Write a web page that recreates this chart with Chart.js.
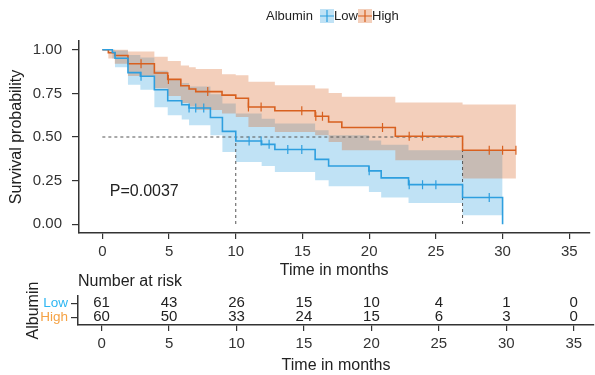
<!DOCTYPE html>
<html>
<head>
<meta charset="utf-8">
<script src="https://cdn.jsdelivr.net/npm/chart.js@4/dist/chart.umd.min.js"></script>
<style>
html, body { margin: 0; padding: 0; background: #fff; }
#wrap { position: relative; width: 595px; height: 375px; overflow: hidden; }
#km { position: absolute; left: 0; top: 0; }
#risk { position: absolute; left: 0; top: 272px; }
</style>
</head>
<body>
<div id="wrap">
  <canvas id="km" width="595" height="280" style="width:595px;height:280px"></canvas>
  <canvas id="risk" width="595" height="103" style="width:595px;height:103px"></canvas>
</div>
<script>
// Albumin Low
let lowTime  = [0, 0.75, 0.95, 1.92, 2.85, 3.9, 4.9, 5.95, 6.5, 8.1, 9.0, 10.0, 11.94, 12.93, 15.95, 16.96, 19.98, 20.9, 22.95, 27.0, 30.0];
let lowSurv  = [1, 0.984, 0.951, 0.869, 0.848, 0.771, 0.708, 0.685, 0.666, 0.612, 0.532, 0.477, 0.458, 0.428, 0.372, 0.334, 0.306, 0.266, 0.227, 0.153, 0];
let lowUpper = [1, 1, 0.995, 0.97, 0.955, 0.88, 0.83, 0.81, 0.79, 0.745, 0.692, 0.634, 0.605, 0.578, 0.539, 0.51, 0.48, 0.455, 0.424, 0.42, 0.42];
let lowLower = [1, 0.95, 0.9, 0.8, 0.77, 0.67, 0.625, 0.6, 0.567, 0.51, 0.414, 0.357, 0.334, 0.3, 0.252, 0.218, 0.185, 0.153, 0.122, 0.052, 0.052];
let lowCensor = [2.9, 6.5, 7.0, 7.6, 11.0, 11.9, 12.5, 13.9, 14.95, 20.0, 23.0, 24.0, 25.0, 29.0];

// Albumin High
let highTime  = [0, 0.45, 0.93, 1.92, 3.9, 4.9, 5.88, 6.5, 7.0, 8.97, 10.0, 10.95, 12.93, 15.95, 16.96, 17.95, 21.96, 27.0, 31.0];
let highSurv  = [1, 0.983, 0.967, 0.92, 0.867, 0.83, 0.794, 0.775, 0.76, 0.74, 0.722, 0.672, 0.65, 0.619, 0.586, 0.554, 0.504, 0.424, 0.424];
let highUpper = [1, 1, 1, 0.99, 0.96, 0.935, 0.91, 0.9, 0.89, 0.86, 0.854, 0.816, 0.797, 0.778, 0.752, 0.73, 0.697, 0.686, 0.686];
let highLower = [1, 0.95, 0.92, 0.85, 0.78, 0.735, 0.695, 0.675, 0.655, 0.634, 0.615, 0.558, 0.529, 0.51, 0.472, 0.424, 0.367, 0.262, 0.262];
let highCensor = [2.9, 4.95, 7.9, 10.95, 11.9, 14.95, 16.0, 16.5, 21.0, 23.0, 24.0, 29.0, 30.0, 31.0];

let medianTimes = [10, 27];
let pValue = "P=0.0037";

let xTicks = [0, 5, 10, 15, 20, 25, 30, 35];
let yTicks = [0, 0.25, 0.5, 0.75, 1];

let riskGroups = ["Low", "High"];
let riskTimes = [0, 5, 10, 15, 20, 25, 30, 35];
let lowRisk  = [61, 43, 26, 15, 10, 4, 1, 0];
let highRisk = [60, 50, 33, 24, 15, 6, 3, 0];

const FONT = "'Liberation Sans', Arial, Helvetica, sans-serif";
const azul = "#2E9FDF";
const laranja = "#D8601F";
const azulFill = "rgba(46,159,223,0.3)";
const laranjaFill = "rgba(216,96,31,0.3)";
const riskColors = ["#2DB6F2", "#F5A244"];
const ink = "#222";
const axisCol = "#333";

function pontos(tempos, valores) {
    return tempos.map((t, i) => ({ x: t, y: valores[i] }));
}

function survEm(tempos, valores, t) {
    let v = valores[0];
    for (let i = 0; i < tempos.length; i++) {
        if (tempos[i] <= t) v = valores[i];
    }
    return v;
}

function banda(dados, cor, alvo) {
    return {
        data: dados, stepped: "before", fill: alvo === undefined ? false : alvo,
        backgroundColor: cor, borderColor: "rgba(0,0,0,0)", borderWidth: 0,
        pointRadius: 0, order: 0
    };
}

let tracejado = { borderColor: "#555", borderWidth: 1, borderDash: [3, 3], pointRadius: 0, fill: false, order: 3 };

let datasets = [];
// 0,1 blue band, 2,3 orange band
datasets.push(Object.assign(banda(pontos(lowTime, lowUpper), azulFill, 1), { order: 5 }));
datasets.push(Object.assign(banda(pontos(lowTime, lowLower), azulFill), { order: 5 }));
datasets.push(Object.assign(banda(pontos(highTime, highUpper), laranjaFill, 3), { order: 4 }));
datasets.push(Object.assign(banda(pontos(highTime, highLower), laranjaFill), { order: 4 }));

let maxMed = Math.max(...medianTimes);
datasets.push(Object.assign({ data: [{ x: 0, y: 0.5 }, { x: maxMed, y: 0.5 }] }, tracejado));
medianTimes.forEach(m => {
    datasets.push(Object.assign({ data: [{ x: m, y: 0.5 }, { x: m, y: 0 }] }, tracejado));
});

datasets.push({ data: pontos(lowTime, lowSurv), stepped: "before", borderColor: azul, borderWidth: 1.6, pointRadius: 0, fill: false, order: 2 });
datasets.push({ data: pontos(highTime, highSurv), stepped: "before", borderColor: laranja, borderWidth: 1.6, pointRadius: 0, fill: false, order: 2 });

datasets.push({
    data: lowCensor.map(t => ({ x: t, y: survEm(lowTime, lowSurv, t) })),
    showLine: false, pointStyle: "line", pointRotation: 90, pointRadius: 4.5,
    pointBorderColor: azul, pointBorderWidth: 1.2, order: 1
});
datasets.push({
    data: highCensor.map(t => ({ x: t, y: survEm(highTime, highSurv, t) })),
    showLine: false, pointStyle: "line", pointRotation: 90, pointRadius: 4.5,
    pointBorderColor: laranja, pointBorderWidth: 1.2, order: 1
});

const extrasKM = {
    id: "extrasKM",
    afterDraw(chart) {
        const ctx = chart.ctx;
        const x = chart.scales.x, y = chart.scales.y;
        ctx.save();
        // p-value
        ctx.fillStyle = ink;
        ctx.font = "16px " + FONT;
        ctx.textAlign = "left";
        ctx.textBaseline = "middle";
        ctx.fillText(pValue, x.getPixelForValue(0.56), y.getPixelForValue(0.19));

        // legend
        ctx.font = "13px " + FONT;
        ctx.fillText("Albumin", 266, 16);
        let chaves = [[azulFill, azul, "Low", 320], [laranjaFill, laranja, "High", 358]];
        chaves.forEach(c => {
            ctx.fillStyle = c[0];
            ctx.fillRect(c[3], 9, 14, 14);
            ctx.strokeStyle = c[1];
            ctx.lineWidth = 1.2;
            ctx.beginPath();
            ctx.moveTo(c[3], 16); ctx.lineTo(c[3] + 14, 16);
            ctx.moveTo(c[3] + 7, 10); ctx.lineTo(c[3] + 7, 22);
            ctx.stroke();
            ctx.fillStyle = ink;
            ctx.fillText(c[2], c[3] + 14, 16);
        });
        ctx.restore();
    }
};

new Chart(document.getElementById("km").getContext("2d"), {
    type: "line",
    data: { datasets: datasets },
    options: {
        responsive: false,
        animation: false,
        devicePixelRatio: 1,
        layout: { padding: { top: 41, right: 1, left: 0, bottom: 0 } },
        plugins: { legend: { display: false }, tooltip: { enabled: false } },
        scales: {
            x: {
                type: "linear", min: -1.75, max: 36.5,
                afterBuildTicks: s => { s.ticks = xTicks.map(v => ({ value: v })); },
                afterFit: s => { s.height = 47; },
                ticks: { color: axisCol, font: { size: 15, family: FONT }, padding: 4, maxRotation: 0 },
                grid: { display: true, drawOnChartArea: false, drawTicks: true, tickLength: 6, color: axisCol, lineWidth: 1.2 },
                border: { display: true, color: axisCol, width: 1.5 },
                title: { display: true, text: "Time in months", color: ink, font: { size: 16, family: FONT }, padding: { top: 0, bottom: 0 } }
            },
            y: {
                type: "linear", min: -0.05, max: 1.05,
                afterBuildTicks: s => { s.ticks = yTicks.map(v => ({ value: v })); },
                afterFit: s => { s.width = 79; },
                ticks: { color: axisCol, font: { size: 15, family: FONT }, padding: 10, callback: v => v.toFixed(2) },
                grid: { display: true, drawOnChartArea: false, drawTicks: true, tickLength: 7, color: axisCol, lineWidth: 1.2 },
                border: { display: true, color: axisCol, width: 1.5 },
                title: { display: true, text: "Survival probability", color: ink, font: { size: 16, family: FONT }, padding: { top: 7, bottom: 0 } }
            }
        }
    },
    plugins: [extrasKM]
});

// risk table
const extrasRisco = {
    id: "extrasRisco",
    afterDraw(chart) {
        const ctx = chart.ctx;
        const x = chart.scales.x, y = chart.scales.y;
        ctx.save();
        ctx.fillStyle = ink;
        ctx.font = "16px " + FONT;
        ctx.textAlign = "left";
        ctx.textBaseline = "middle";
        ctx.fillText("Number at risk", chart.chartArea.left, 10);
        ctx.font = "15px " + FONT;
        ctx.textAlign = "center";
        [lowRisk, highRisk].forEach((linha, g) => {
            linha.forEach((n, i) => {
                ctx.fillText(String(n), x.getPixelForValue(riskTimes[i]), y.getPixelForValue(g) - 1);
            });
        });
        ctx.restore();
    }
};

new Chart(document.getElementById("risk").getContext("2d"), {
    type: "line",
    data: { datasets: [] },
    options: {
        responsive: false,
        animation: false,
        devicePixelRatio: 1,
        layout: { padding: { top: 24, right: 1, left: 0, bottom: 0 } },
        plugins: { legend: { display: false }, tooltip: { enabled: false } },
        scales: {
            x: {
                type: "linear", min: -1.75, max: 36.5,
                afterBuildTicks: s => { s.ticks = xTicks.map(v => ({ value: v })); },
                afterFit: s => { s.height = 50; },
                ticks: { color: axisCol, font: { size: 15, family: FONT }, padding: 4, maxRotation: 0 },
                grid: { display: true, drawOnChartArea: false, drawTicks: true, tickLength: 6, color: axisCol, lineWidth: 1.2 },
                border: { display: true, color: axisCol, width: 1.5 },
                title: { display: true, text: "Time in months", color: ink, font: { size: 16, family: FONT }, padding: { top: 0, bottom: 0 } }
            },
            y: {
                type: "linear", min: -0.545, max: 1.548, reverse: true,
                afterBuildTicks: s => { s.ticks = [0, 1].map(v => ({ value: v })); },
                afterFit: s => { s.width = 78; },
                ticks: {
                    font: { size: 13.5, family: FONT }, padding: 3,
                    color: c => riskColors[c.index],
                    callback: (v, i) => riskGroups[i]
                },
                grid: { display: true, drawOnChartArea: false, drawTicks: true, tickLength: 7, color: axisCol, lineWidth: 1.2 },
                border: { display: true, color: axisCol, width: 1.5 },
                title: { display: true, text: "Albumin", color: ink, font: { size: 16, family: FONT }, padding: { top: 24, bottom: 0 } }
            }
        }
    },
    plugins: [extrasRisco]
});
</script>
</body>
</html>
